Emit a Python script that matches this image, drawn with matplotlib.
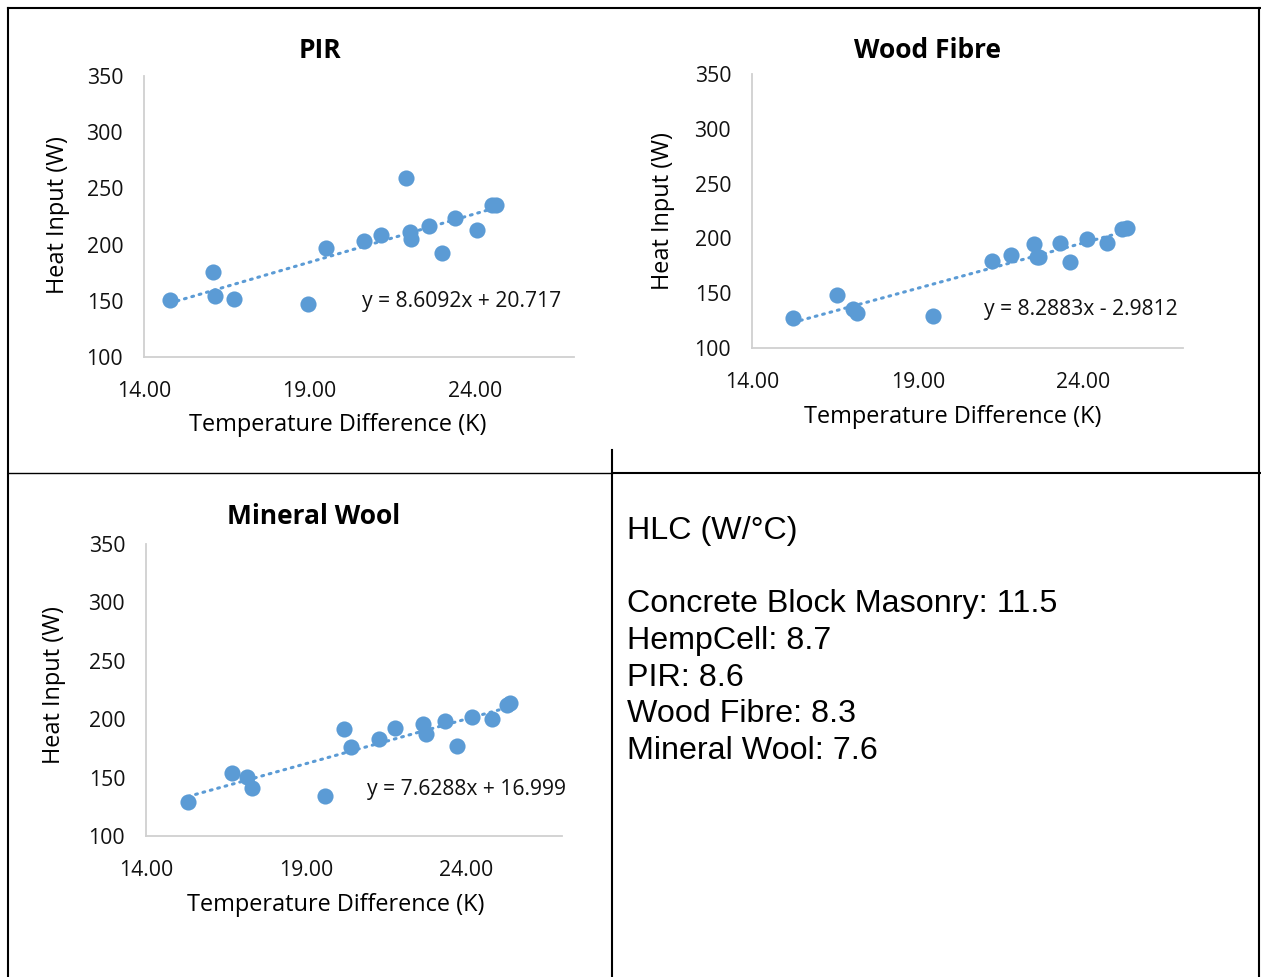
import matplotlib
matplotlib.use('Agg')
import numpy as np
import matplotlib.pyplot as plt
from matplotlib.lines import Line2D

W, H = 1261, 977

# temperature difference (K) and heat input (W) per material
pir_dt = [14.78, 16.09, 16.14, 16.71, 18.97, 19.51, 20.64, 21.16, 21.91, 22.03,
          22.06, 22.63, 23.02, 23.41, 24.08, 24.52, 24.64]
pir_q = [150.7, 175.9, 154.3, 151.6, 147.2, 197.0, 203.2, 208.5, 259.0, 211.5,
         204.7, 216.5, 192.3, 223.4, 213.0, 235.2, 235.2]

wood_dt = [15.24, 16.57, 17.05, 17.17, 19.46, 21.24, 21.80, 22.50, 22.60, 22.67,
           23.28, 23.60, 24.10, 24.71, 25.17, 25.30]
wood_q = [127.1, 148.4, 135.3, 132.2, 129.2, 179.7, 184.9, 194.9, 183.3, 182.8,
          195.5, 178.2, 199.5, 196.1, 208.3, 209.2]

wool_dt = [15.32, 16.69, 17.16, 17.31, 19.58, 20.18, 20.41, 21.29, 21.79, 22.66,
           22.75, 23.35, 23.72, 24.19, 24.81, 25.28, 25.38]
wool_q = [128.9, 153.7, 150.3, 141.4, 134.2, 191.6, 176.5, 183.0, 192.2, 195.6,
          187.3, 198.7, 177.3, 201.6, 200.2, 212.2, 214.1]

# linear trendline coefficients (slope, intercept)
pir_fit = (8.6092, 20.717)
wood_fit = (8.2883, -2.9812)
wool_fit = (7.6288, 16.999)

x_ticks = [14, 19, 24]
y_ticks = [100, 150, 200, 250, 300, 350]

hlc_lines = ['HLC (W/°C)', '', 'Concrete Block Masonry: 11.5', 'HempCell: 8.7',
             'PIR: 8.6', 'Wood Fibre: 8.3', 'Mineral Wool: 7.6']

BLUE = '#5B9BD5'
plt.rcParams['font.family'] = ['Open Sans', 'DejaVu Sans']

fig = plt.figure(figsize=(W / 100, H / 100), dpi=100)


def px(x0, y0, x1, y1):  # pixel box -> figure rect
    return [x0 / W, 1 - y1 / H, (x1 - x0) / W, (y1 - y0) / H]


def fxy(x, y):
    return x / W, 1 - y / H


def scatter_panel(rect, dt, q, fit, title, title_xy, ylab_xy, xlab_xy, eq_xy):
    ax = fig.add_axes(rect)
    ax.scatter(dt, q, s=135, color=BLUE, zorder=3, linewidths=0)
    xs = np.array([min(dt), max(dt)])
    ax.plot(xs, fit[0] * xs + fit[1], color=BLUE, lw=2.2, ls=(0, (0.6, 1.9)),
            dash_capstyle='round', zorder=2)
    sign = '+' if fit[1] >= 0 else '-'
    ax.text(eq_xy[0], eq_xy[1], f'y = {fit[0]:.4f}x {sign} {abs(fit[1]):g}',
            fontsize=15.2, va='center', ha='left', color='#111111')
    ax.set_xlim(14, 27)
    ax.set_ylim(100, 350)
    ax.set_xticks(x_ticks)
    ax.set_xticklabels([f'{t:.2f}' for t in x_ticks])
    ax.set_yticks(y_ticks)
    ax.tick_params(length=0, labelsize=15.3, colors='#111111')
    ax.tick_params(axis='x', pad=17)
    ax.tick_params(axis='y', pad=15)
    for s in ['top', 'right']:
        ax.spines[s].set_visible(False)
    for s in ['left', 'bottom']:
        ax.spines[s].set_color('#d0d0d0')
        ax.spines[s].set_linewidth(1.3)
    fig.text(*fxy(*title_xy), title, fontsize=19, fontweight='bold',
             ha='center', va='center')
    fig.text(*fxy(*ylab_xy), 'Heat Input (W)', fontsize=16.9, rotation=90,
             ha='center', va='center')
    fig.text(*fxy(*xlab_xy), 'Temperature Difference (K)', fontsize=16.9,
             ha='center', va='center')
    return ax


scatter_panel(px(144, 76, 574, 357), pir_dt, pir_q, pir_fit, 'PIR',
              (320, 51), (58, 215), (338, 425), (20.6, 149))
scatter_panel(px(752, 74, 1183, 348), wood_dt, wood_q, wood_fit, 'Wood Fibre',
              (927, 51), (663, 211), (953, 417), (21.0, 135))
scatter_panel(px(146, 544, 562, 836), wool_dt, wool_q, wool_fit, 'Mineral Wool',
              (314, 517), (54, 685), (336, 905), (20.9, 140))

# summary text
fig.text(*fxy(627, 516), '\n'.join(hlc_lines), fontsize=23.2, ha='left', va='top',
         family=['Liberation Sans', 'DejaVu Sans'], linespacing=1.29)

# table borders
def hline(y, x0, x1, lw=1.5):
    fig.add_artist(Line2D([x0 / W, x1 / W], [1 - y / H] * 2, color='black', lw=lw))


def vline(x, y0, y1, lw=1.5):
    fig.add_artist(Line2D([x / W] * 2, [1 - y0 / H, 1 - y1 / H], color='black', lw=lw))


hline(8, 8, 1261)
hline(473, 8, 612, lw=1.0)
hline(473, 612, 1261)
vline(8, 8, 977)
vline(612, 450, 977)
vline(1259, 8, 977)

fig.savefig('out.png', dpi=100, facecolor='white')
